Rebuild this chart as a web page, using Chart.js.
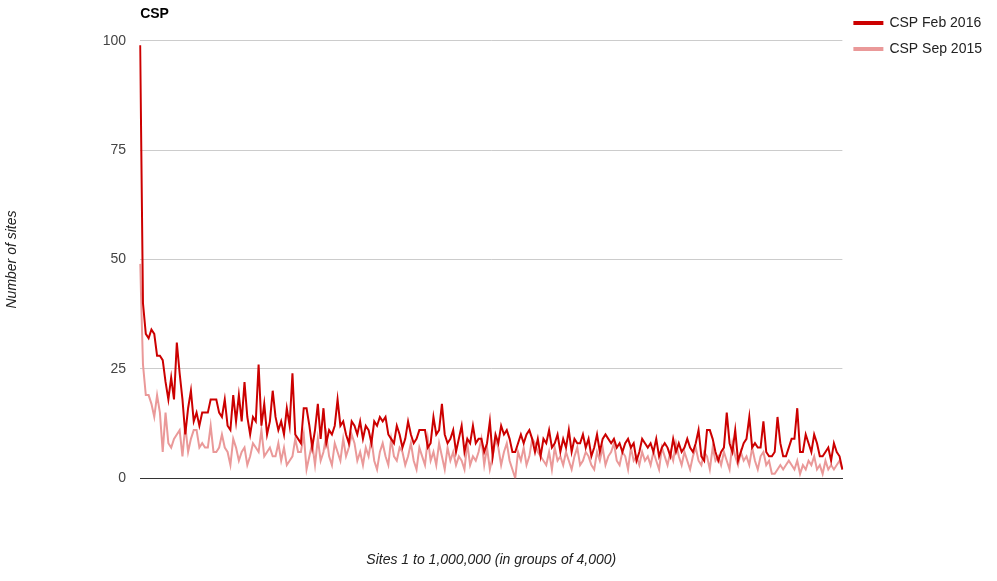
<!DOCTYPE html>
<html>
<head>
<meta charset="utf-8">
<script src="https://cdn.jsdelivr.net/npm/chart.js@4.4.0/dist/chart.umd.min.js"></script>
<style>
  html, body { margin: 0; padding: 0; background: #fff; }
  #wrap { width: 997px; height: 581px; }
</style>
</head>
<body>
<div id="wrap"><canvas id="myChart"></canvas></div>
<script>
// CSP adoption, sites 1 to 1,000,000 in groups of 4,000
const feb2016 = [
  99,40,33,32,34,33,28,28,27,22,18,23,18,31,24,18,10,16,20,13,15,12,15,15,15,18,18,18,15,14,18,12,11,19,13,19,13,22,14,10,14,13,26,12,17,10,13,20,14,11,13,10,16,12,24,10,9,8,16,16,
  12,7,11,17,9,16,8,11,10,12,18,12,13,10,8,13,12,10,13,9,12,11,8,13,12,14,13,14,10,9,8,12,10,7,9,13,10,8,9,11,11,11,7,8,14,10,11,17,10,8,9,11,6,9,12,6,9,8,12,8,
  9,9,6,8,13,5,10,8,12,10,11,9,6,6,8,10,8,10,11,9,6,9,5,9,8,11,7,8,10,6,9,7,11,6,9,8,8,10,7,9,5,7,10,6,9,10,9,8,9,7,8,6,8,9,7,8,4,6,9,8,
  7,8,6,9,5,7,8,7,5,9,6,8,6,7,9,7,6,8,11,5,4,11,11,9,6,4,6,7,15,8,6,11,4,6,8,9,14,7,8,7,7,13,6,5,5,6,14,8,5,5,7,9,9,16,6,6,10,8,6,10,8,5,5,6,7,4,8,6,5,2
];
const sep2015 = [
  49,26,19,19,17,14,19,15,6,15,8,7,9,10,11,5,12,6,9,11,11,7,8,7,7,12,6,6,7,10,7,6,3,9,7,4,6,7,3,5,8,7,6,11,5,6,7,5,5,8,4,7,3,4,5,9,6,6,10,2,
  5,8,3,9,4,6,10,5,3,8,6,4,9,5,7,10,8,4,6,3,7,5,9,4,2,6,8,5,3,9,5,4,7,6,3,5,8,4,2,7,5,3,9,4,6,3,8,5,2,7,4,6,3,5,4,2,8,3,5,4,
  6,9,3,7,2,5,9,7,3,6,8,4,2,0,6,4,7,3,5,9,8,6,5,4,3,6,2,7,4,5,3,6,4,2,5,7,3,4,6,5,3,2,6,4,7,3,5,6,8,4,3,6,5,2,7,4,5,3,6,4,
  5,3,6,4,2,7,5,3,6,4,8,5,3,6,4,2,5,7,4,3,6,5,2,7,4,5,3,6,4,2,8,5,3,6,4,5,3,7,4,2,5,6,3,4,1,1,2,3,2,3,4,3,2,4,1,3,2,4,3,5,2,3,1,4,2,3,2,3,4,2
];
const groups = feb2016.map((_, i) => i + 1);
const yTicks = [0, 25, 50, 75, 100];

const ctx = document.getElementById('myChart').getContext('2d');
new Chart(ctx, {
    type: 'line',
    data: {
        labels: groups,
        datasets: [{
            label: 'CSP Feb 2016',
            data: feb2016,
            borderColor: '#cc0000',
            backgroundColor: '#cc0000',
            borderWidth: 2,
            pointRadius: 0,
            tension: 0
        }, {
            label: 'CSP Sep 2015',
            data: sep2015,
            borderColor: '#ea9999',
            backgroundColor: '#ea9999',
            borderWidth: 2,
            pointRadius: 0,
            tension: 0
        }]
    },
    options: {
        responsive: true,
        maintainAspectRatio: false,
        animation: false,
        layout: { padding: { left: 0, right: 5, top: 4, bottom: 8 } },
        plugins: {
            title: {
                display: true,
                text: 'CSP',
                align: 'start',
                fullSize: false,
                color: '#000',
                font: { family: 'Arial, Liberation Sans', size: 14, weight: 'bold' },
                padding: { top: 2, bottom: 18 }
            },
            legend: {
                position: 'right',
                align: 'start',
                labels: {
                    boxWidth: 28,
                    boxHeight: 2,
                    color: '#222',
                    padding: 12,
                    font: { family: 'Arial, Liberation Sans', size: 14 }
                }
            },
            tooltip: { enabled: false }
        },
        scales: {
            x: {
                ticks: { display: false },
                grid: { display: false },
                border: { color: '#333', width: 1 },
                title: {
                    display: true,
                    text: 'Sites 1 to 1,000,000 (in groups of 4,000)',
                    color: '#222',
                    font: { family: 'Arial, Liberation Sans', size: 14, style: 'italic' },
                    padding: { top: 66 }
                }
            },
            y: {
                min: 0,
                max: 100,
                afterBuildTicks: axis => { axis.ticks = yTicks.map(v => ({ value: v })); },
                ticks: {
                    color: '#444',
                    padding: 14,
                    font: { family: 'Arial, Liberation Sans', size: 14 }
                },
                grid: {
                    color: c => c.tick.value === 0 ? '#333' : '#cccccc',
                    drawTicks: false
                },
                border: { display: false },
                title: {
                    display: true,
                    text: 'Number of sites',
                    color: '#222',
                    font: { family: 'Arial, Liberation Sans', size: 14, style: 'italic' },
                    padding: { bottom: 68 }
                }
            }
        }
    }
});
</script>
</body>
</html>
